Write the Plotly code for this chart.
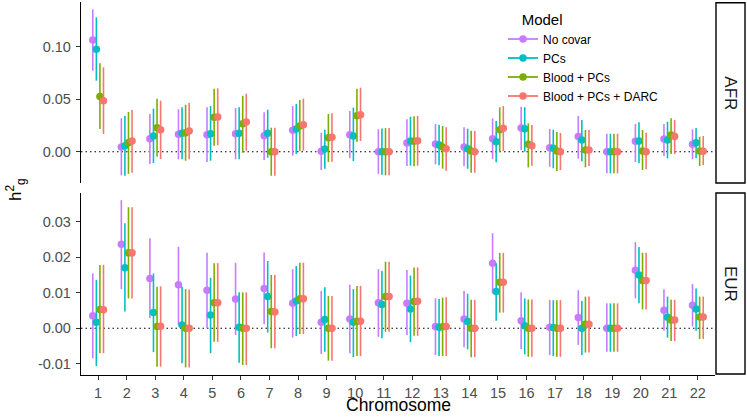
import plotly.graph_objects as go

chromosomes = list(range(1, 23))
models = ["No covar", "PCs", "Blood + PCs", "Blood + PCs + DARC"]
model_colors = ["#C77CFF", "#00BFC4", "#7CAE00", "#F8766D"]
populations = ["AFR", "EUR"]

# ---------------- AFR ----------------
afr_nocovar_est = [0.1064, 0.0045, 0.0124, 0.0166, 0.0162, 0.0171, 0.0152, 0.0204, 0.0004, 0.0162, 0.0, 0.0083, 0.0073, 0.0045, 0.0124, 0.0226, 0.0038, 0.0146, 0.0, 0.0099, 0.0121, 0.0070]
afr_nocovar_lo = [0.0771, -0.0225, -0.0117, -0.0072, -0.0098, -0.0072, -0.0079, -0.0038, -0.0174, -0.0063, -0.0210, -0.0136, -0.0120, -0.0139, -0.0070, 0.0016, -0.0143, -0.0066, -0.0206, -0.0098, -0.0041, -0.0072]
afr_nocovar_hi = [0.1356, 0.0318, 0.0359, 0.0404, 0.0423, 0.0416, 0.0375, 0.0435, 0.0181, 0.0388, 0.0213, 0.0309, 0.0264, 0.0232, 0.0318, 0.0429, 0.0216, 0.0340, 0.0171, 0.0264, 0.0264, 0.0213]

afr_pcs_est = [0.0975, 0.0057, 0.0150, 0.0175, 0.0171, 0.0175, 0.0175, 0.0216, 0.0026, 0.0150, 0.0, 0.0102, 0.0064, 0.0029, 0.0095, 0.0219, 0.0032, 0.0111, 0.0, 0.0102, 0.0111, 0.0086]
afr_pcs_lo = [0.0676, -0.0229, -0.0108, -0.0072, -0.0086, -0.0072, -0.0057, -0.0022, -0.0162, -0.0089, -0.0220, -0.0133, -0.0130, -0.0162, -0.0101, 0.0, -0.0158, -0.0092, -0.0206, -0.0111, -0.0063, -0.0063]
afr_pcs_hi = [0.1280, 0.0343, 0.0410, 0.0423, 0.0435, 0.0423, 0.0400, 0.0454, 0.0210, 0.0419, 0.0220, 0.0333, 0.0257, 0.0219, 0.0292, 0.0423, 0.0210, 0.0302, 0.0171, 0.0280, 0.0286, 0.0226]

afr_blood_est = [0.0527, 0.0086, 0.0229, 0.0181, 0.0328, 0.0267, 0.0, 0.0245, 0.0133, 0.0343, 0.0, 0.0099, 0.0045, 0.0007, 0.0210, 0.0070, 0.0007, 0.0016, 0.0, 0.0007, 0.0159, 0.0007]
afr_blood_lo = [0.0216, -0.0210, -0.0048, -0.0086, 0.0057, -0.0010, -0.0229, 0.0007, -0.0098, 0.0095, -0.0225, -0.0139, -0.0162, -0.0200, 0.0, -0.0149, -0.0184, -0.0149, -0.0206, -0.0174, -0.0022, -0.0136]
afr_blood_hi = [0.0842, 0.0378, 0.0505, 0.0448, 0.0600, 0.0533, 0.0229, 0.0492, 0.0359, 0.0600, 0.0225, 0.0337, 0.0245, 0.0200, 0.0423, 0.0270, 0.0188, 0.0207, 0.0171, 0.0207, 0.0318, 0.0143]

afr_darc_est = [0.0486, 0.0102, 0.0210, 0.0197, 0.0330, 0.0283, 0.0, 0.0257, 0.0137, 0.0352, 0.0, 0.0105, 0.0029, 0.0, 0.0223, 0.0057, 0.0, 0.0016, 0.0, 0.0, 0.0146, 0.0004]
afr_darc_lo = [0.0169, -0.0200, -0.0070, -0.0072, 0.0061, 0.0010, -0.0229, 0.0010, -0.0095, 0.0102, -0.0225, -0.0133, -0.0181, -0.0200, 0.0007, -0.0133, -0.0174, -0.0136, -0.0206, -0.0168, -0.0022, -0.0127]
afr_darc_hi = [0.0804, 0.0397, 0.0486, 0.0464, 0.0604, 0.0552, 0.0229, 0.0505, 0.0366, 0.0610, 0.0225, 0.0340, 0.0232, 0.0197, 0.0435, 0.0254, 0.0178, 0.0207, 0.0171, 0.0181, 0.0302, 0.0150]

# ---------------- EUR ----------------
eur_nocovar_est = [0.0035, 0.0236, 0.0140, 0.0122, 0.0107, 0.0082, 0.0112, 0.0070, 0.0017, 0.0026, 0.0072, 0.0070, 0.0005, 0.0026, 0.0183, 0.0021, 0.0003, 0.0030, 0.0, 0.0163, 0.0051, 0.0065]
eur_nocovar_lo = [-0.0084, 0.0110, 0.0028, 0.0009, 0.0, -0.0019, 0.0011, -0.0026, -0.0072, -0.0070, -0.0024, -0.0019, -0.0075, -0.0053, 0.0098, -0.0058, -0.0075, -0.0047, -0.0066, 0.0084, -0.0007, 0.0005]
eur_nocovar_hi = [0.0154, 0.0360, 0.0253, 0.0229, 0.0212, 0.0184, 0.0213, 0.0166, 0.0105, 0.0122, 0.0166, 0.0164, 0.0084, 0.0105, 0.0267, 0.0101, 0.0080, 0.0107, 0.0070, 0.0242, 0.0110, 0.0124]

eur_pcs_est = [0.0017, 0.0170, 0.0044, 0.0009, 0.0037, 0.0003, 0.0089, 0.0077, 0.0025, 0.0017, 0.0067, 0.0054, 0.0003, 0.0019, 0.0103, 0.0007, 0.0002, 0.0, 0.0, 0.0150, 0.0031, 0.0054]
eur_pcs_lo = [-0.0106, 0.0047, -0.0067, -0.0098, -0.0070, -0.0097, -0.0012, -0.0022, -0.0066, -0.0081, -0.0028, -0.0039, -0.0078, -0.0059, 0.0021, -0.0073, -0.0078, -0.0075, -0.0066, 0.0070, -0.0026, -0.0007]
eur_pcs_hi = [0.0136, 0.0295, 0.0154, 0.0117, 0.0142, 0.0101, 0.0189, 0.0175, 0.0115, 0.0110, 0.0161, 0.0148, 0.0082, 0.0097, 0.0183, 0.0084, 0.0079, 0.0077, 0.0070, 0.0228, 0.0089, 0.0112]

eur_blood_est = [0.0053, 0.0212, 0.0005, 0.0, 0.0072, 0.0, 0.0047, 0.0083, 0.0, 0.0020, 0.0089, 0.0075, 0.0004, 0.0, 0.0129, 0.0, 0.0, 0.0011, 0.0, 0.0134, 0.0023, 0.0032]
eur_blood_lo = [-0.0070, 0.0084, -0.0108, -0.0110, -0.0038, -0.0103, -0.0056, -0.0016, -0.0091, -0.0078, -0.0010, -0.0021, -0.0078, -0.0081, 0.0044, -0.0080, -0.0080, -0.0068, -0.0066, 0.0053, -0.0036, -0.0030]
eur_blood_hi = [0.0178, 0.0340, 0.0117, 0.0110, 0.0183, 0.0101, 0.0150, 0.0184, 0.0091, 0.0119, 0.0187, 0.0171, 0.0086, 0.0080, 0.0212, 0.0081, 0.0079, 0.0089, 0.0070, 0.0212, 0.0080, 0.0089]

eur_darc_est = [0.0052, 0.0212, 0.0006, 0.0, 0.0072, 0.0, 0.0046, 0.0083, 0.0, 0.0020, 0.0089, 0.0076, 0.0005, 0.0, 0.0129, 0.0, 0.0, 0.0011, 0.0, 0.0134, 0.0023, 0.0032]
eur_darc_lo = [-0.0070, 0.0084, -0.0108, -0.0110, -0.0038, -0.0103, -0.0056, -0.0016, -0.0091, -0.0078, -0.0010, -0.0021, -0.0078, -0.0081, 0.0044, -0.0080, -0.0080, -0.0068, -0.0066, 0.0053, -0.0036, -0.0030]
eur_darc_hi = [0.0178, 0.0340, 0.0118, 0.0109, 0.0183, 0.0101, 0.0150, 0.0184, 0.0091, 0.0119, 0.0187, 0.0171, 0.0087, 0.0080, 0.0212, 0.0081, 0.0079, 0.0089, 0.0070, 0.0212, 0.0080, 0.0089]

afr_ticks = [0.0, 0.05, 0.10]
afr_ticktext = ["0.00", "0.05", "0.10"]
eur_ticks = [-0.01, 0.0, 0.01, 0.02, 0.03]
eur_ticktext = ["-0.01", "0.00", "0.01", "0.02", "0.03"]

panel_data = {
    "AFR": [(afr_nocovar_est, afr_nocovar_lo, afr_nocovar_hi),
            (afr_pcs_est, afr_pcs_lo, afr_pcs_hi),
            (afr_blood_est, afr_blood_lo, afr_blood_hi),
            (afr_darc_est, afr_darc_lo, afr_darc_hi)],
    "EUR": [(eur_nocovar_est, eur_nocovar_lo, eur_nocovar_hi),
            (eur_pcs_est, eur_pcs_lo, eur_pcs_hi),
            (eur_blood_est, eur_blood_lo, eur_blood_hi),
            (eur_darc_est, eur_darc_lo, eur_darc_hi)],
}
panel_axes = {"AFR": ("x2", "y2"), "EUR": ("x", "y")}

FONT = "Liberation Sans, Arial, sans-serif"
dodge_width = 0.5
n_models = len(models)
offsets = [(i - (n_models - 1) / 2) * dodge_width / n_models for i in range(n_models)]

fig = go.Figure()

for pop in populations:
    xa, ya = panel_axes[pop]
    for i, (model, color) in enumerate(zip(models, model_colors)):
        est, lo, hi = panel_data[pop][i]
        fig.add_trace(go.Scatter(
            x=[c + offsets[i] for c in chromosomes],
            y=est,
            mode="markers",
            marker=dict(color=color, size=7.5),
            error_y=dict(type="data", symmetric=False,
                         array=[h - e for h, e in zip(hi, est)],
                         arrayminus=[e - l for e, l in zip(est, lo)],
                         color=color, thickness=1.6, width=0),
            xaxis=xa, yaxis=ya,
            showlegend=False, hoverinfo="skip", name=model,
        ))

# legend entries
for model, color in zip(models, model_colors):
    fig.add_trace(go.Scatter(
        x=[None], y=[None], mode="lines+markers", name=model,
        line=dict(color=color, width=1.8),
        marker=dict(color=color, size=7.5),
        xaxis="x2", yaxis="y2", showlegend=True,
    ))

L, R, T, B = 81, 32, 2, 42
W, H = 747, 417
pw, ph = W - L - R, H - T - B
def px_x(p):
    return (p - L) / pw
def px_y(p):
    return (H - B - p) / ph

top_dom = [px_y(183), 1.0]
bot_dom = [0.0, px_y(193)]

tick_font = dict(family=FONT, size=14.5, color="#4D4D4D")
common_y = dict(showline=True, linecolor="black", linewidth=1.3, ticks="outside",
                ticklen=4, tickwidth=1.1, tickcolor="#333333", tickfont=tick_font,
                ticklabelstandoff=2, automargin=False,
                showgrid=False, zeroline=False, tickmode="array")

fig.update_layout(
    template="none",
    width=W, height=H,
    margin=dict(l=L, r=R, t=T, b=B, autoexpand=False),
    plot_bgcolor="white", paper_bgcolor="white",
    font=dict(family=FONT, color="black"),
    xaxis=dict(domain=[0, 1], anchor="y", range=[0.4, 22.6],
               tickmode="array", tickvals=chromosomes,
               ticktext=[str(c) for c in chromosomes],
               showline=True, linecolor="black", linewidth=1.3,
               ticks="outside", ticklen=4, tickwidth=1.1, tickcolor="#333333",
               tickfont=tick_font, automargin=False,
               showgrid=False, zeroline=False),
    xaxis2=dict(domain=[0, 1], anchor="y2", range=[0.4, 22.6], matches="x",
                showline=False, showticklabels=False, ticks="", automargin=False,
                showgrid=False, zeroline=False),
    yaxis=dict(domain=bot_dom, anchor="x", range=[-0.01312, 0.0380],
               tickvals=eur_ticks, ticktext=eur_ticktext, **common_y),
    yaxis2=dict(domain=top_dom, anchor="x2", range=[-0.0298, 0.1426],
                tickvals=afr_ticks, ticktext=afr_ticktext, **common_y),
    legend=dict(x=px_x(503), y=px_y(5), xanchor="left", yanchor="top",
                bgcolor="rgba(0,0,0,0)", borderwidth=0,
                font=dict(family=FONT, size=12, color="black"),
                title=dict(text="\u00a0\u00a0\u00a0\u00a0Model",
                           font=dict(family=FONT, size=15, color="black"))),
    showlegend=True,
)

# x axis title
fig.add_annotation(text="Chromosome", xref="paper", yref="paper",
                   x=0.5, y=px_y(417), showarrow=False,
                   xanchor="center", yanchor="bottom",
                   font=dict(family=FONT, size=17.5, color="black"))

# dotted zero reference lines
for xa, ya in [("x", "y"), ("x2", "y2")]:
    fig.add_shape(type="line", xref=f"{xa} domain", yref=ya, x0=0, x1=1, y0=0, y1=0,
                  line=dict(color="black", width=1.1, dash="1.5px,3px"), layer="below")

# facet strips
for pop, dom in [("AFR", top_dom), ("EUR", bot_dom)]:
    y0, y1 = dom
    if pop == "AFR":
        y1 = px_y(2.7)
    else:
        y0 = px_y(374)
    fig.add_shape(type="rect", xref="paper", yref="paper",
                  x0=px_x(716), x1=px_x(745), y0=y0, y1=y1,
                  line=dict(color="black", width=1.4), fillcolor="white")
    fig.add_annotation(text=pop, xref="paper", yref="paper",
                       x=px_x(730.5), y=(y0 + y1) / 2, showarrow=False,
                       xanchor="center", yanchor="middle",
                       textangle=90, font=dict(family=FONT, size=17, color="#1A1A1A"))

# y axis title
fig.add_annotation(text="h<sup>2</sup><sub>g</sub>", xref="paper", yref="paper",
                   x=px_x(15), y=px_y(190), showarrow=False, textangle=-90,
                   xanchor="center", yanchor="middle",
                   font=dict(family=FONT, size=17, color="black"))

fig.write_html("out.html", config={"displayModeBar": False},
               post_script="document.body.style.margin='0';document.body.style.overflow='hidden';")
